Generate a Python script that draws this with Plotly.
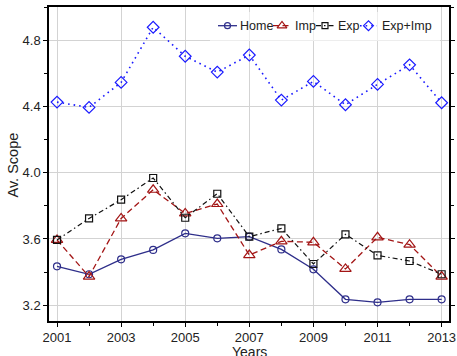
import plotly.graph_objects as go

years = list(range(2001, 2014))
home = [3.435, 3.387, 3.477, 3.534, 3.634, 3.604, 3.614, 3.537, 3.417, 3.236, 3.218, 3.236, 3.236]
imp = [3.594, 3.373, 3.724, 3.897, 3.754, 3.811, 3.503, 3.586, 3.580, 3.419, 3.610, 3.566, 3.373]
exp_ = [3.594, 3.724, 3.837, 3.968, 3.728, 3.873, 3.614, 3.664, 3.449, 3.628, 3.501, 3.467, 3.387]
expimp = [4.426, 4.394, 4.545, 4.878, 4.703, 4.607, 4.710, 4.438, 4.551, 4.410, 4.533, 4.651, 4.422]

x_ticks = [2001, 2003, 2005, 2007, 2009, 2011, 2013]
y_ticks = [3.2, 3.6, 4.0, 4.4, 4.8]

names = ["Home", "Imp", "Exp", "Exp+Imp"]
colors = ["#2e2e8a", "#a31515", "#111111", "#1a1aff"]
dashes = ["solid", "6px,3.5px", "5px,3px,1.5px,3px", "1.6px,4px"]
symbols = ["circle-open", "triangle-up-open", "square-open", "diamond-open"]
sizes = [7, 10, 7, 9]
widths = [1.3, 1.3, 1.2, 1.6]
series = [home, imp, exp_, expimp]

fig = go.Figure()
for s, n, c, d, sy, sz, w in zip(series, names, colors, dashes, symbols, sizes, widths):
    fig.add_trace(go.Scatter(
        x=years, y=s, mode="lines+markers", name=n, showlegend=False,
        line=dict(color=c, dash=d, width=w),
        marker=dict(symbol=sy, size=sz, color=c, line=dict(width=1.2, color=c)),
    ))

# custom legend on a pixel-space overlay axis
L, R, T, B = 49, 449, 7, 321
box_x = [210, 440, 440, 210, 210]
box_y = [12, 12, 41, 41, 12]
fig.add_trace(go.Scatter(
    x=box_x, y=box_y, xaxis="x2", yaxis="y2", mode="lines", fill="toself",
    fillcolor="rgba(255,255,255,0.6)", line=dict(width=0), showlegend=False, hoverinfo="skip"))

leg_line_x = [(218, 237), (273, 291), (316, 334), (360, 377)]
leg_text_x = [238, 293, 336, 380]
leg_y = 25.7
for (x0, x1), n, c, d, sy, sz, w, tx in zip(leg_line_x, names, colors, dashes, symbols, sizes, widths, leg_text_x):
    fig.add_trace(go.Scatter(
        x=[x0, x1], y=[leg_y, leg_y], xaxis="x2", yaxis="y2", mode="lines",
        line=dict(color=c, dash=d, width=w), showlegend=False, hoverinfo="skip"))
    fig.add_trace(go.Scatter(
        x=[(x0 + x1) / 2], y=[leg_y], xaxis="x2", yaxis="y2", mode="markers",
        marker=dict(symbol=sy, size=sz * 0.85, color=c, line=dict(width=1.2, color=c)),
        showlegend=False, hoverinfo="skip"))
    fig.add_annotation(x=tx, y=leg_y, xref="x2", yref="y2", text=n, showarrow=False,
                       xanchor="left", yanchor="middle",
                       font=dict(family="Liberation Sans, Arial", size=12.5, color="#222"))

# axis titles (paper coordinates)
fig.add_annotation(x=(250 - L) / (R - L), y=(B - 351.5) / (B - T), xref="paper", yref="paper",
                   text="Years", showarrow=False, xanchor="center", yanchor="middle",
                   font=dict(family="Liberation Sans, Arial", size=14, color="#222"))
fig.add_annotation(x=(12.5 - L) / (R - L), y=(B - 165) / (B - T), xref="paper", yref="paper",
                   text="Av. Scope", showarrow=False, xanchor="center", yanchor="middle",
                   textangle=-90,
                   font=dict(family="Liberation Sans, Arial", size=14.5, color="#222"))

fig.update_layout(
    width=457, height=356,
    margin=dict(l=L, r=457 - R, t=T, b=356 - B),
    paper_bgcolor="white", plot_bgcolor="white",
    font=dict(family="Liberation Sans, Arial", color="#222"),
    xaxis=dict(
        range=[2000.75, 2013.23], tickvals=x_ticks, ticktext=[str(v) for v in x_ticks],
        showgrid=True, gridcolor="#d3d3d3", gridwidth=1, automargin=False,
        showline=True, linecolor="black", linewidth=1.5, mirror=True,
        ticks="outside", ticklen=4, tickcolor="black",
        minor=dict(dtick=1, ticks="outside", ticklen=3, tickcolor="black", showgrid=False),
        tickfont=dict(size=13, color="#222"), zeroline=False,
    ),
    yaxis=dict(
        range=[3.105, 5.0], tickvals=y_ticks, ticktext=["%.1f" % v for v in y_ticks],
        showgrid=True, gridcolor="#d3d3d3", gridwidth=1, automargin=False,
        showline=True, linecolor="black", linewidth=1.5, mirror="ticks",
        ticks="outside", ticklen=4, tickcolor="black",
        minor=dict(dtick=0.2, tick0=3.2, ticks="outside", ticklen=3, tickcolor="black", showgrid=False),
        tickfont=dict(size=13, color="#222"), zeroline=False,
    ),
    xaxis2=dict(overlaying="x", range=[L, R], visible=False, fixedrange=True),
    yaxis2=dict(overlaying="y", range=[B, T], visible=False, fixedrange=True),
)

fig.write_html("out.html")
